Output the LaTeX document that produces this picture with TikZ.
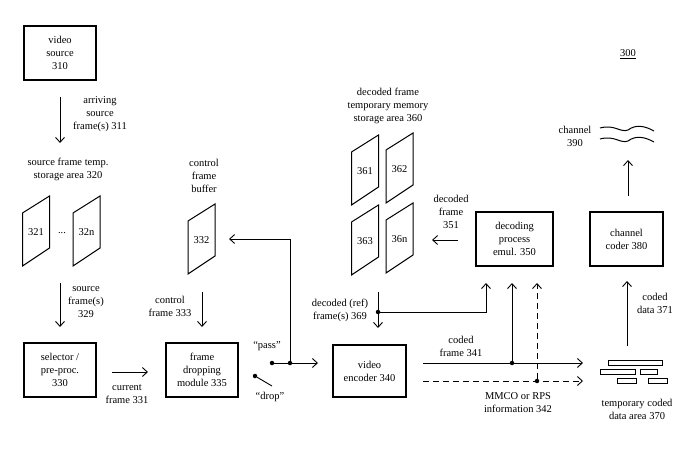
\documentclass[tikz,border=0pt]{standalone}
\usepackage{fontspec}
\setmainfont{Liberation Serif}
\usetikzlibrary{arrows.meta}
\begin{document}
\begin{tikzpicture}[x=1pt,y=-1pt,
  box/.style={draw,line width=2.2pt,align=center,font=\fontsize{10.5}{13}\selectfont},
  lbl/.style={align=center,font=\fontsize{10.5}{13}\selectfont},
  arr/.style={-{Straight Barb[length=5pt,width=9pt]},line width=0.9pt},
  ln/.style={line width=0.9pt},
  dot/.style={circle,fill,inner sep=0pt,minimum size=4.5pt}]
\useasboundingbox (0,0) rectangle (693,457);
% parallelogram macro via pic
\tikzset{frm/.pic={\draw[line width=1pt] (-13.5,-18)--(13.5,-35)--(13.5,17)--(-13.5,35)--cycle;}}
% boxes
\node[box,minimum width=72pt,minimum height=54pt] (vs) at (60,53) {video\\source\\310};
\node[box,minimum width=72pt,minimum height=54pt] (sel) at (60,370) {selector /\\pre-proc.\\330};
\node[box,minimum width=72pt,minimum height=54pt] (fd) at (202,370) {frame\\dropping\\module 335};
\node[box,minimum width=73pt,minimum height=52pt] (enc) at (369.5,371) {video\\encoder 340};
\node[box,minimum width=77pt,minimum height=54pt] (dec) at (514.5,239) {decoding\\process\\emul. 350};
\node[box,minimum width=73pt,minimum height=54pt] (cc) at (626.5,239) {channel\\coder 380};
% labels
\node[lbl] (l300) at (628,54) {\underline{300}};
\node[lbl] (l311) at (100,114) {arriving\\source\\frame(s) 311};
\node[lbl] (l320) at (68,169) {source frame temp.\\storage area 320};
\node[lbl] (l329) at (86,302) {source\\frame(s)\\329};
\node[lbl] (lcfb) at (204,176) {control\\frame\\buffer};
\node[lbl] (l333) at (170,306) {control\\frame 333};
\node[lbl] (l331) at (127,394) {current\\frame 331};
\node[lbl] (lpass) at (267,346) {``pass''};
\node[lbl] (ldrop) at (270,397) {``drop''};
\node[lbl] (l360) at (388,106) {decoded frame\\temporary memory\\storage area 360};
\node[lbl] (l351) at (451,212) {decoded\\frame\\351};
\node[lbl] (l369) at (340,310) {decoded (ref)\\frame(s) 369};
\node[lbl] (l341) at (461,346) {coded\\frame 341};
\node[lbl] (l342) at (518,403) {MMCO or RPS\\information 342};
\node[lbl] (l370) at (637,409) {temporary coded\\data area 370};
\node[lbl] (l371) at (655,303) {coded\\data 371};
\node[lbl] (l390) at (575,136) {channel\\390};
% frames
\pic at (36,231) {frm}; \node[lbl] (f321) at (36,232) {321};
\node[lbl] (dots) at (62,233) {...};
\pic at (86.5,231) {frm}; \node[lbl] (f32n) at (86.5,232) {32n};
\pic at (201.5,239) {frm}; \node[lbl] (f332) at (201.5,240) {332};
\pic at (365,170) {frm}; \node[lbl] (f361) at (365,171) {361};
\pic at (399.5,168) {frm}; \node[lbl] (f362) at (399.5,169) {362};
\pic at (365,240) {frm}; \node[lbl] (f363) at (365,241) {363};
\pic at (399.5,238) {frm}; \node[lbl] (f36n) at (399.5,239) {36n};
% coordinates
\coordinate (a1) at (60,97); \coordinate (a2) at (60,143);
\coordinate (b1) at (60,283); \coordinate (b2) at (60,327);
\coordinate (c1) at (202,292); \coordinate (c2) at (202,327);
\coordinate (d1) at (112,372); \coordinate (d2) at (148,372);
\node[dot] (pd) at (272,363) {};
\node[dot] (jd) at (290,363) {};
\coordinate (pe) at (318,363);
\node[dot] (dd) at (255,376) {};
\coordinate (de) at (272,386);
\coordinate (cb) at (229,239);
\coordinate (e1) at (458,240); \coordinate (e2) at (432,240);
\coordinate (r1) at (378,292); \coordinate (r2) at (378,328);
\node[dot] (rd) at (378,312) {};
\coordinate (r3) at (486,283);
\coordinate (cf1) at (423,363); \coordinate (cf2) at (583,363);
\node[dot] (cfd) at (512,363) {};
\coordinate (cfu) at (512,283);
\coordinate (m1) at (423,381); \coordinate (m2) at (583,381);
\node[dot] (md) at (537,381) {};
\coordinate (mu) at (537,283);
\coordinate (k1) at (627,346); \coordinate (k2) at (627,281);
\coordinate (h1) at (628,196); \coordinate (h2) at (628,160);
% arrows
\draw[arr] (a1)--(a2);
\draw[arr] (b1)--(b2);
\draw[arr] (c1)--(c2);
\draw[arr] (d1)--(d2);
\draw[arr] (pd)--(pe);
\draw[ln] (dd)--(de);
\draw[arr] (jd)|-(cb);
\draw[arr] (e1)--(e2);
\draw[arr] (r1)--(r2);
\draw[arr] (rd)-|(r3);
\draw[arr] (cf1)--(cf2);
\draw[arr] (cfd)--(cfu);
\draw[arr,dash pattern=on 6pt off 4pt] (m1)--(m2);
\draw[arr,dash pattern=on 6pt off 4pt] (md)--(mu);
\draw[arr] (k1)--(k2);
\draw[arr] (h1)--(h2);
% channel waves
\draw[line width=1pt] (600,128) .. controls (615,124) and (620,133) .. (628,130) .. controls (636,124) and (645,126) .. (654,131);
\draw[line width=1pt] (600,139) .. controls (615,135) and (620,144) .. (628,141) .. controls (636,135) and (645,137) .. (654,142);
% coded data bars
\foreach \xa/\ya/\xb in {608/360/662, 600/369/635, 640/369/657, 617/378/636, 648/378/667}
  \draw[line width=0.8pt] (\xa,\ya) rectangle (\xb,\ya+5);
\end{tikzpicture}
\end{document}
